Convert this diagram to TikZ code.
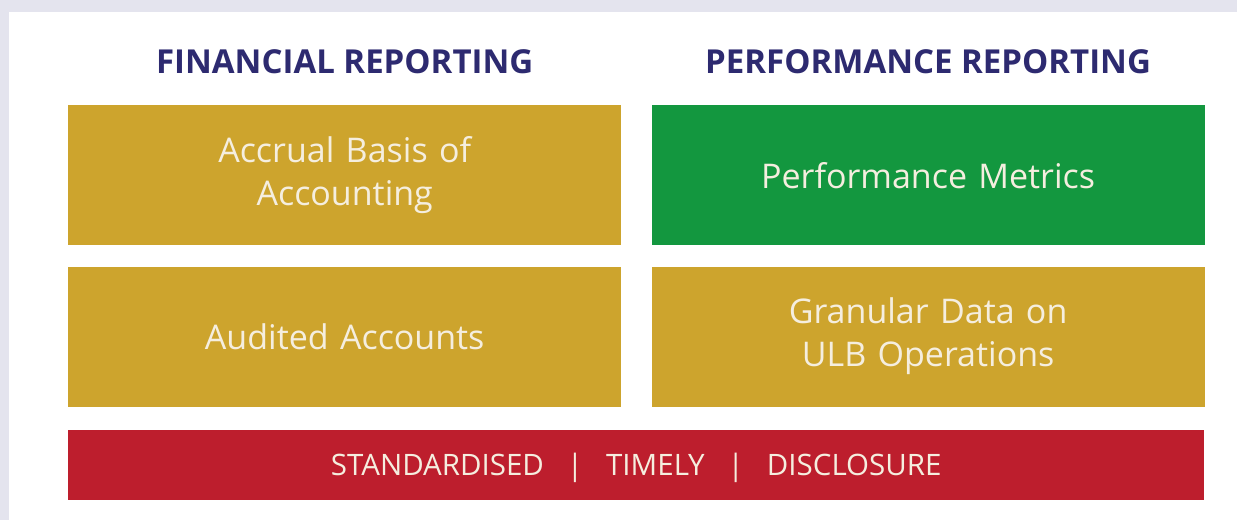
\documentclass[tikz,border=0pt]{standalone}
\usepackage{fontspec}
\setmainfont{Open Sans}
\usepackage{xcolor}
\usepackage{tikz}
\usetikzlibrary{positioning}

\definecolor{pagebg}{HTML}{E4E4EE}
\definecolor{mustard}{HTML}{CDA42D}
\definecolor{metricgreen}{HTML}{13973F}
\definecolor{barred}{HTML}{BD1E2D}
\definecolor{headnavy}{HTML}{2D2A70}
\definecolor{cream}{HTML}{F5EEDF}

\begin{document}
\begin{tikzpicture}[x=1pt, y=-1pt,
    block/.style={fill=mustard, text=cream, inner sep=0pt, minimum width=553pt,
      minimum height=140pt, align=center, text width=520pt,
      font=\fontsize{34}{43}\selectfont},
    heading/.style={text=headnavy, font=\fontsize{33}{36}\selectfont\bfseries, anchor=base},
    bar/.style={fill=barred, text=cream, inner sep=0pt, minimum width=1136pt,
      minimum height=70pt, text height=21pt, text depth=0pt,
      font=\fontsize{29.5}{32}\selectfont}]

  % page and panel
  \fill[pagebg] (0,0) rectangle (1237,520);
  \fill[white] (9,12) rectangle (1237,520);

  % two columns of blocks
  \node[block, anchor=north west] (accrual) at (68,105) {Accrual Basis of\\Accounting};
  \node[block, fill=metricgreen, right=30pt of accrual] (metrics) {Performance Metrics};
  \node[block, below=21pt of accrual] (audited) {Audited Accounts};
  \node[block, below=21pt of metrics] (granular) {Granular Data on\\ULB Operations};

  % headings
  \node[heading] (fin) at (accrual.north |- 0,73) {FINANCIAL REPORTING};
  \node[heading] (perf) at (metrics.north |- 0,73) {PERFORMANCE REPORTING};

  % footer bar
  \node[bar, anchor=north west] (footer) at (68,430)
    {STANDARDISED\hspace{23pt}|\hspace{23pt}TIMELY\hspace{23pt}|\hspace{23pt}DISCLOSURE};
\end{tikzpicture}
\end{document}
